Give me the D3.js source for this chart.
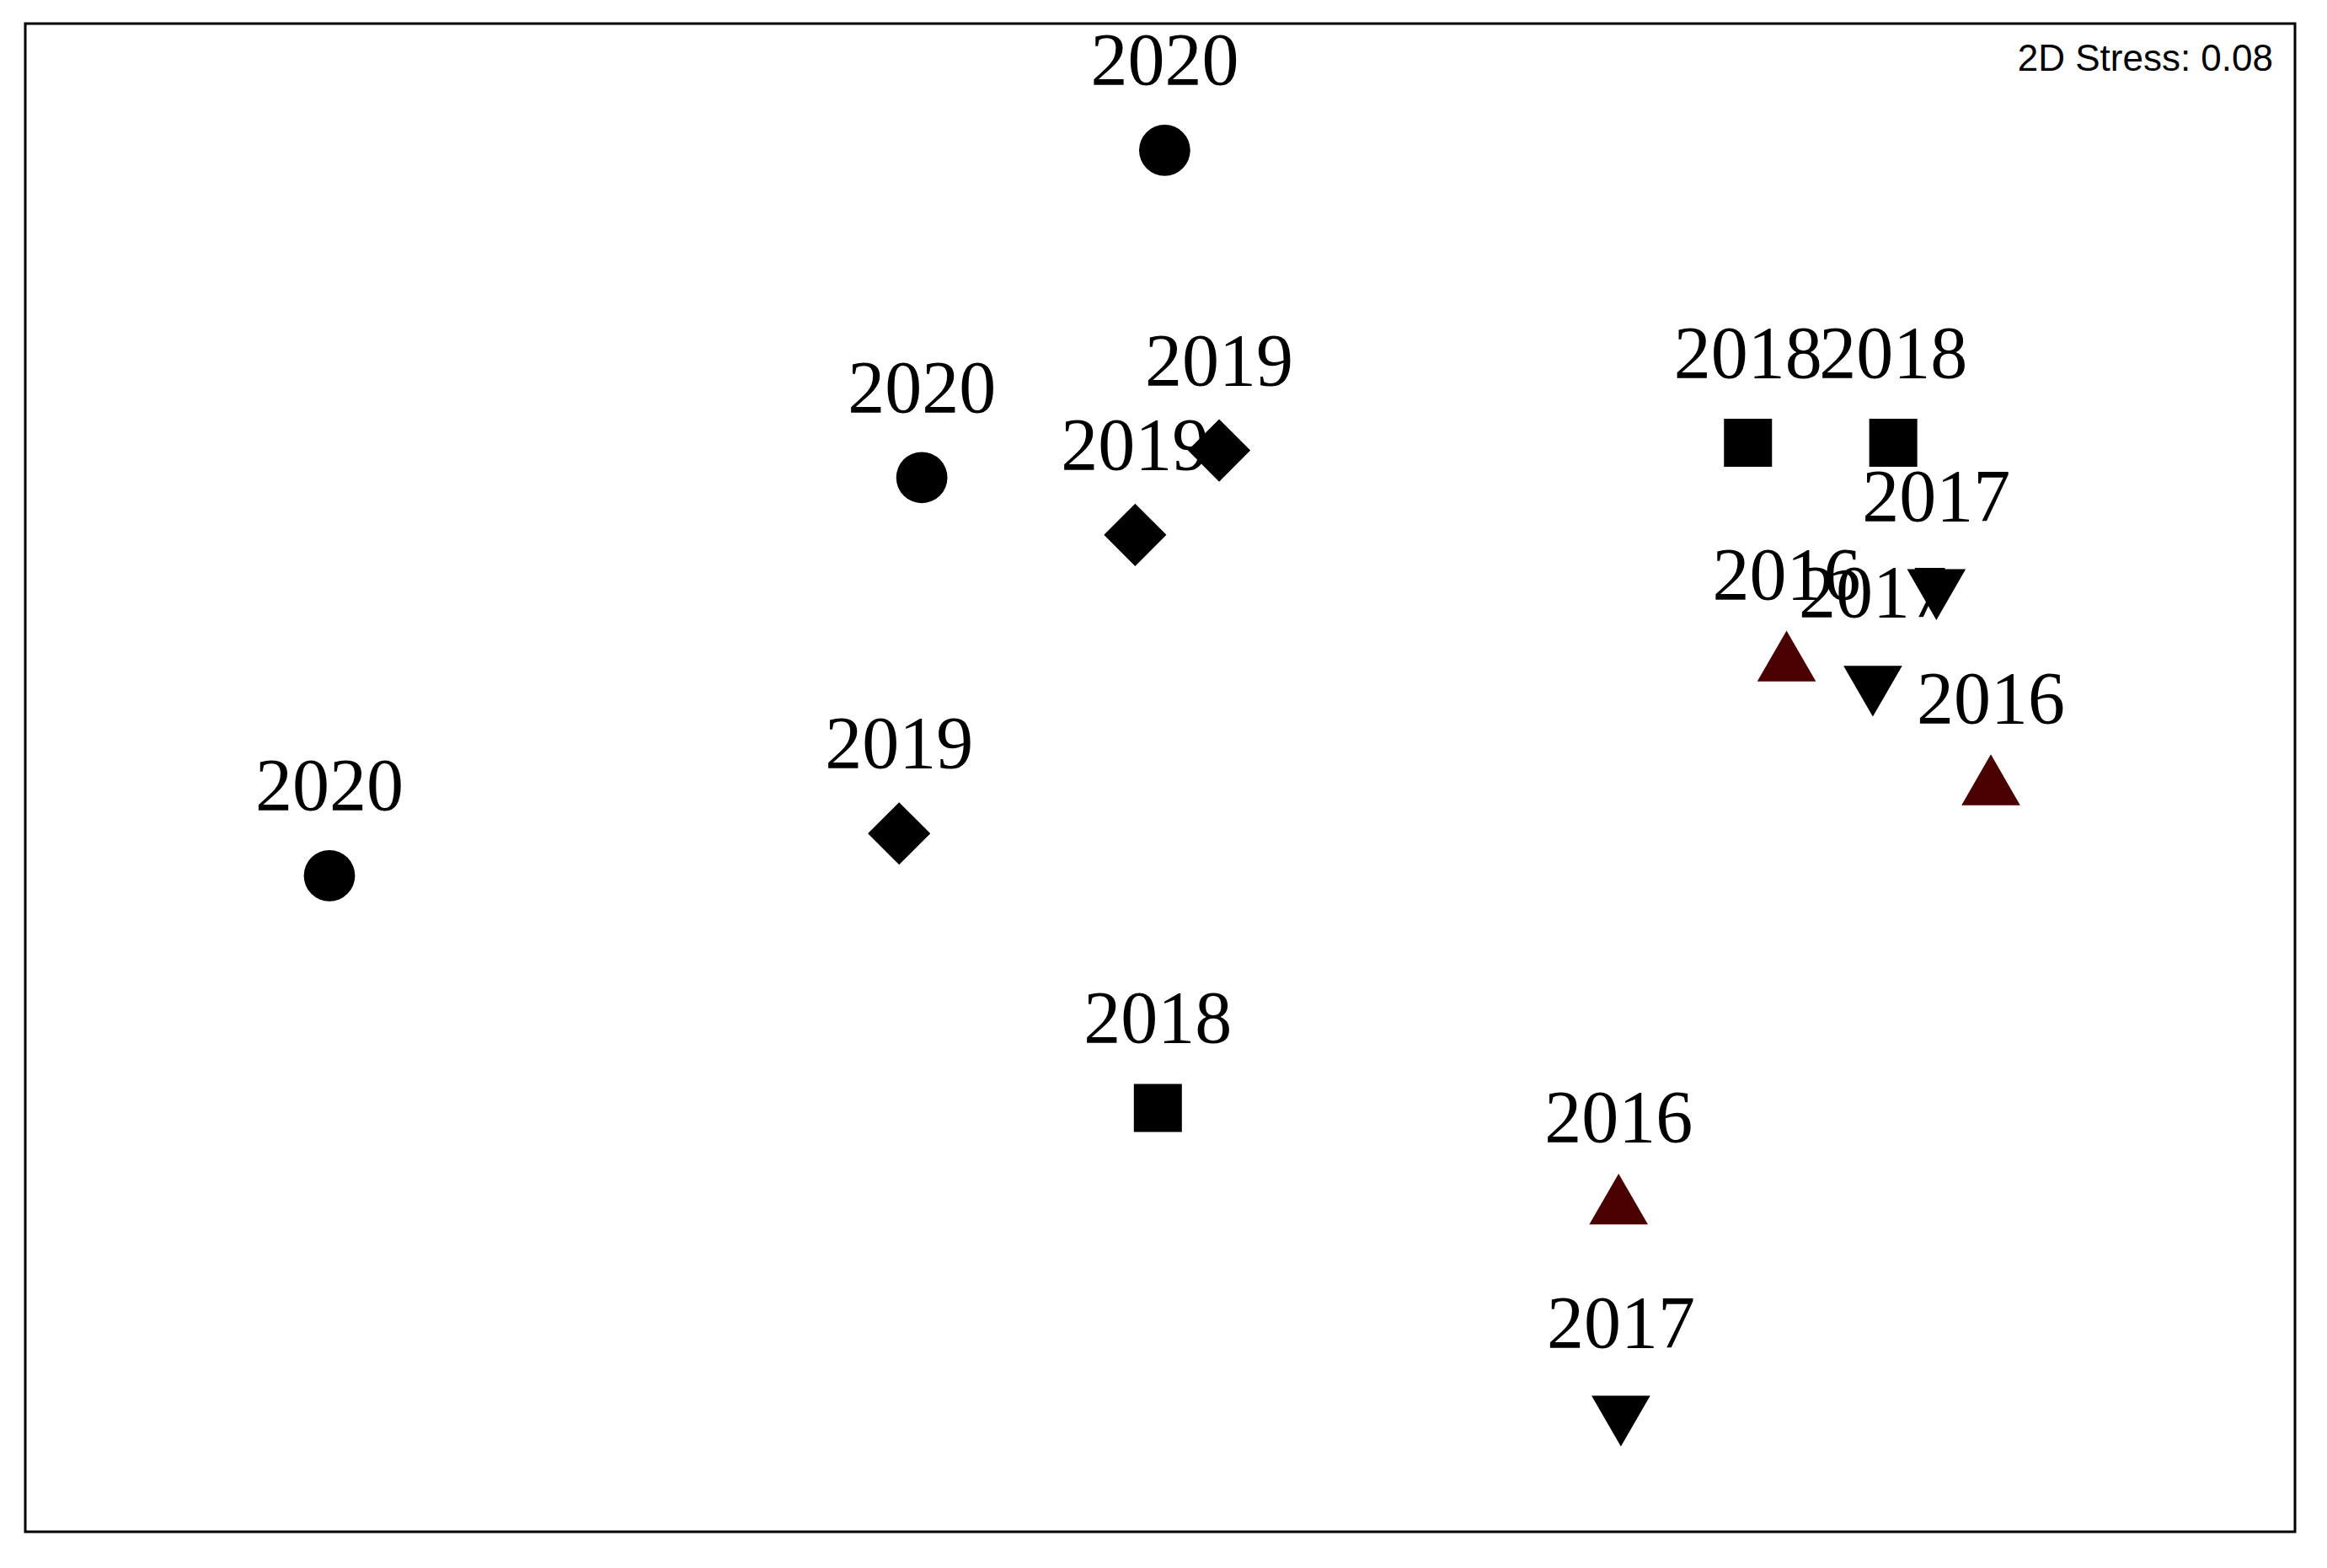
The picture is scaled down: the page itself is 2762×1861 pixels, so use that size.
<!DOCTYPE html>
<html><head><meta charset="utf-8">
<script src="https://cdn.jsdelivr.net/npm/d3@7"></script>
<style>body{margin:0;background:#fff}</style>
</head><body>
<script>
// nMDS ordination coordinates (arbitrary units)
const years = ["2020","2020","2020","2019","2019","2019","2018","2018","2018","2017","2017","2017","2016","2016","2016"]
const mdsX = [50.2, 39.5, 13.4, 52.6, 48.9, 38.5, 75.9, 82.3, 49.9, 84.2, 81.4, 70.3, 77.6, 86.6, 70.2]
const mdsY = [91.6, 69.9, 43.5, 71.7, 66.1, 46.3, 72.2, 72.2, 28.1, 62.7, 56.3, 7.9, 57.5, 49.3, 21.5]
const stressText = "2D Stress: 0.08"

const symbolFor = {"2020": d3.symbolCircle, "2019": "diamond", "2018": d3.symbolSquare, "2017": "down", "2016": d3.symbolTriangle}
const colorFor = {"2020": "#000", "2019": "#000", "2018": "#000", "2017": "#000", "2016": "#4b0000"}
const sizeFor = {"2020": 2900, "2019": 2750, "2018": 3250, "2017": 2100, "2016": 2100}

const W = 2762, H = 1861
const frame = {left: 30, top: 28, right: 2724, bottom: 1818}
const x = d3.scaleLinear().domain([0, 100]).range([frame.left, frame.right])
const y = d3.scaleLinear().domain([0, 100]).range([frame.bottom, frame.top])

const svg = d3.select("body").append("svg").attr("width", W).attr("height", H)
svg.append("rect").attr("x", frame.left).attr("y", frame.top)
  .attr("width", frame.right - frame.left).attr("height", frame.bottom - frame.top)
  .attr("fill", "none").attr("stroke", "#000").attr("stroke-width", 3)

const pts = years.map((yr, i) => ({yr, x: mdsX[i], y: mdsY[i]}))

pts.forEach(d => {
  const s = symbolFor[d.yr]
  const type = s === "down" ? d3.symbolTriangle : s === "diamond" ? d3.symbolSquare : s
  const rot = s === "down" ? " rotate(180)" : s === "diamond" ? " rotate(45)" : ""
  svg.append("path").attr("d", d3.symbol().type(type).size(sizeFor[d.yr])())
    .attr("transform", `translate(${x(d.x)},${y(d.y)})${rot}`)
    .attr("fill", colorFor[d.yr])
})

svg.append("g").selectAll("text").data(pts).join("text")
  .attr("x", d => x(d.x)).attr("y", d => y(d.y) - 78)
  .attr("text-anchor", "middle")
  .attr("font-family", "Liberation Serif, Times New Roman, serif")
  .attr("font-size", 88)
  .text(d => d.yr)

svg.append("text").attr("x", frame.right - 26).attr("y", frame.top + 56)
  .attr("text-anchor", "end").attr("font-family", "Liberation Sans, Arial, sans-serif")
  .attr("font-size", 44).text(stressText)
</script>
</body></html>
